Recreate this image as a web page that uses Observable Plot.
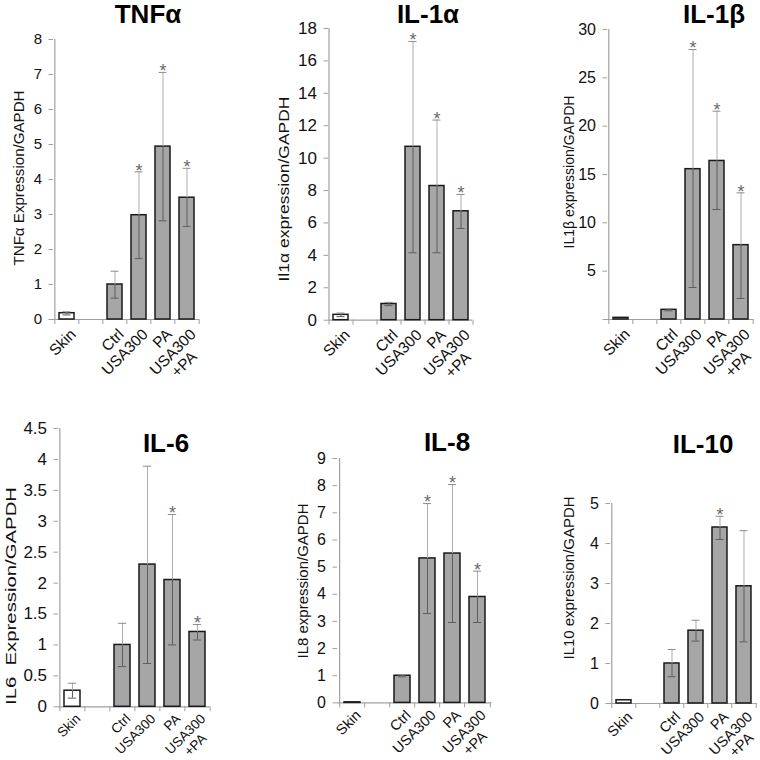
<!DOCTYPE html>
<html><head><meta charset="utf-8">
<script src="https://cdn.jsdelivr.net/npm/d3@7"></script>
<script src="https://cdn.jsdelivr.net/npm/@observablehq/plot@0.6"></script>
<style>
body{margin:0;background:#fff;}
#root{position:relative;width:760px;height:760px;overflow:hidden;background:#fff;}
#root svg{position:absolute;overflow:visible;}
</style></head><body><div id="root"></div>
<script>
// ---- data ----
const categories = ["Skin", " ", "Ctrl", "USA300", "PA", "USA300+PA"];
const tickLine1 = ["Skin", "", "Ctrl", "USA300", "PA", "USA300"];
const tickLine2 = ["", "", "", "", "", "+PA"];
const groups = ["Skin", "Ctrl", "USA300", "PA", "USA300+PA"];
const titles = ["TNFα", "IL-1α", "IL-1β", "IL-6", "IL-8", "IL-10"];
const yLabels = ["TNFα Expression/GAPDH", "Il1α expression/GAPDH", "IL1β expression/GAPDH",
                 "IL6  Expression/GAPDH", "IL8 expression/GAPDH", "IL10 expression/GAPDH"];

const tnfMean = [0.18, 1.00, 2.98, 4.94, 3.48];
const tnfLow  = [0.13, 0.61, 1.74, 2.82, 2.66];
const tnfHigh = [0.22, 1.38, 4.22, 7.06, 4.32];
const tnfStar = [false, false, true, true, true];
const tnfTicks = [0, 1, 2, 3, 4, 5, 6, 7, 8];
const tnfTickLabels = ["0", "1", "2", "3", "4", "5", "6", "7", "8"];

const il1aMean = [0.33, 1.00, 10.7, 8.28, 6.72];
const il1aLow  = [0.22, 0.90, 4.16, 4.16, 5.66];
const il1aHigh = [0.44, 1.10, 17.2, 12.35, 7.76];
const il1aStar = [false, false, true, true, true];
const il1aTicks = [0, 2, 4, 6, 8, 10, 12, 14, 16, 18];
const il1aTickLabels = ["0", "2", "4", "6", "8", "10", "12", "14", "16", "18"];

const il1bMean = [0.17, 1.00, 15.55, 16.4, 7.69];
const il1bLow  = [null, 0.90, 3.31, 11.38, 2.17];
const il1bHigh = [null, 1.10, 27.93, 21.55, 13.1];
const il1bStar = [false, false, true, true, true];
const il1bTicks = [0, 5, 10, 15, 20, 25, 30];
const il1bTickLabels = ["", "5", "10", "15", "20", "25", "30"];

const il6Mean = [0.26, 1.00, 2.30, 2.05, 1.21];
const il6Low  = [0.14, 0.65, 0.70, 1.00, 1.08];
const il6High = [0.38, 1.35, 3.89, 3.11, 1.33];
const il6Star = [false, false, false, true, true];
const il6Ticks = [0, 0.5, 1, 1.5, 2, 2.5, 3, 3.5, 4, 4.5];
const il6TickLabels = ["0", "0.5", "1", "1.5", "2", "2.5", "3", "3.5", "4", "4.5"];

const il8Mean = [0.02, 1.00, 5.32, 5.50, 3.90];
const il8Low  = [null, 0.96, 3.29, 2.96, 2.96];
const il8High = [null, 1.03, 7.34, 8.04, 4.85];
const il8Star = [false, false, true, true, true];
const il8Ticks = [0, 1, 2, 3, 4, 5, 6, 7, 8, 9];
const il8TickLabels = ["0", "1", "2", "3", "4", "5", "6", "7", "8", "9"];

const il10Mean = [0.08, 1.00, 1.82, 4.40, 2.93];
const il10Low  = [null, 0.67, 1.56, 4.10, 1.54];
const il10High = [null, 1.35, 2.08, 4.68, 4.32];
const il10Star = [false, false, false, true, false];
const il10Ticks = [0, 1, 2, 3, 4, 5];
const il10TickLabels = ["0", "1", "2", "3", "4", "5"];

// ---- layout (pixel frame of each panel, font sizes, title and y-label placement) ----
const layout = [
  {x0: 53, x1: 199, yTop: 39.3, yBot: 319.3, tickFont: 15, xFont: 15.5, xdy: 8, title: [148, 23], ylab: [19, 178, 175]},
  {x0: 327.7, x1: 471.7, yTop: 28.3, yBot: 320, tickFont: 17, xFont: 15.5, xdy: 8, title: [428, 23], ylab: [284, 189, 185]},
  {x0: 606.7, x1: 753, yTop: 29.3, yBot: 319.3, tickFont: 16, xFont: 15.5, xdy: 8, title: [714, 23], ylab: [569, 172, 153]},
  {x0: 57.7, x1: 209.3, yTop: 427.7, yBot: 706, tickFont: 17, xFont: 13.5, xdy: 6, title: [166, 452], ylab: [11, 596, 218]},
  {x0: 337.3, x1: 491.7, yTop: 458.3, yBot: 702.7, tickFont: 16, xFont: 14.5, xdy: 6, title: [447, 451], ylab: [303, 581, 155]},
  {x0: 610, x1: 756.7, yTop: 503.3, yBot: 703.3, tickFont: 16, xFont: 14.5, xdy: 7, title: [703, 453], ylab: [569, 578, 163]}
];

const panels = [
  {mean: tnfMean, lo: tnfLow, hi: tnfHigh, star: tnfStar, ticks: tnfTicks, labels: tnfTickLabels},
  {mean: il1aMean, lo: il1aLow, hi: il1aHigh, star: il1aStar, ticks: il1aTicks, labels: il1aTickLabels},
  {mean: il1bMean, lo: il1bLow, hi: il1bHigh, star: il1bStar, ticks: il1bTicks, labels: il1bTickLabels},
  {mean: il6Mean, lo: il6Low, hi: il6High, star: il6Star, ticks: il6Ticks, labels: il6TickLabels},
  {mean: il8Mean, lo: il8Low, hi: il8High, star: il8Star, ticks: il8Ticks, labels: il8TickLabels},
  {mean: il10Mean, lo: il10Low, hi: il10High, star: il10Star, ticks: il10Ticks, labels: il10TickLabels}
];

const FONT = "'Liberation Sans', Arial, sans-serif";
const root = document.getElementById("root");
const axisGray = "#a0a0a0";

panels.forEach((p, k) => {
  const L = layout[k];
  const ml = 50, mr = 14, mt = 24, mb = 70;
  const innerW = L.x1 - L.x0, innerH = L.yBot - L.yTop;
  const step = innerW / categories.length;
  const bw = step * 0.62;
  const capInset = Math.max(0, (bw - 8) / 2);
  const rows = groups.map((g, i) => ({cat: g, mean: p.mean[i], lo: p.lo[i], hi: p.hi[i], star: p.star[i]}));
  const withErr = rows.filter(d => d.lo != null && d.hi != null);
  const ymax = p.ticks[p.ticks.length - 1];
  const line1 = new Map(categories.map((c, i) => [c, tickLine1[i]]));
  const line2 = new Map(categories.map((c, i) => [c, tickLine2[i]]));
  const yLab = new Map(p.ticks.map((t, i) => [t, p.labels[i]]));
  const lineStep = L.xFont * 1.45;

  const svg = Plot.plot({
    width: innerW + ml + mr,
    height: innerH + mt + mb,
    marginLeft: ml, marginRight: mr, marginTop: mt, marginBottom: mb,
    style: {fontFamily: FONT, fontSize: "15px", background: "transparent", overflow: "visible", color: "#111"},
    x: {domain: categories, paddingInner: 0.38, paddingOuter: 0.19, axis: null},
    y: {domain: [0, ymax], axis: null},
    marks: [
      // axis lines
      Plot.ruleY([0], {stroke: axisGray, strokeWidth: 1.2}),
      Plot.ruleX([categories[0]], {y1: 0, y2: ymax, dx: -step / 2, stroke: axisGray, strokeWidth: 1.2}),
      // y axis
      Plot.axisY(p.ticks, {anchor: "left", tickSize: 4.5, tickPadding: 7, stroke: axisGray,
        fill: "#111", fontSize: L.tickFont, tickFormat: t => yLab.get(t), label: null}),
      // x axis ticks at band boundaries
      Plot.axisX(categories, {anchor: "bottom", tickSize: 5, stroke: axisGray, dx: -step / 2,
        tickFormat: () => "", label: null}),
      Plot.axisX([categories[categories.length - 1]], {anchor: "bottom", tickSize: 5, stroke: axisGray,
        dx: step / 2, tickFormat: () => "", label: null}),
      // x tick labels, rotated
      Plot.text(categories.filter(c => line1.get(c)), {x: c => c, text: c => line1.get(c),
        frameAnchor: "bottom", rotate: -45, textAnchor: "end", lineAnchor: "top",
        dx: 2, dy: L.xdy, fontSize: L.xFont, fill: "#111"}),
      Plot.text(categories.filter(c => line2.get(c)), {x: c => c, text: c => line2.get(c),
        frameAnchor: "bottom", rotate: -45, textAnchor: "end", lineAnchor: "top",
        dx: 3, dy: L.xdy + lineStep, fontSize: L.xFont, fill: "#111"}),
      // bars
      Plot.barY(rows, {filter: d => d.cat === "Skin", x: "cat", y: "mean", fill: "#ffffff",
        stroke: "#1a1a1a", strokeWidth: 1.5}),
      Plot.barY(rows, {filter: d => d.cat !== "Skin", x: "cat", y: "mean", fill: "#a6a6a6",
        stroke: "#1a1a1a", strokeWidth: 1.5}),
      // error bars: inside part (over bar) darker, outside part lighter
      Plot.ruleX(withErr, {x: "cat", y1: "lo", y2: "mean", stroke: "#5c5c5c", strokeWidth: 1}),
      Plot.ruleX(withErr, {x: "cat", y1: "mean", y2: "hi", stroke: "#adadad", strokeWidth: 1}),
      Plot.tickY(withErr, {x: "cat", y: "lo", stroke: "#5c5c5c", strokeWidth: 1,
        insetLeft: capInset, insetRight: capInset}),
      Plot.tickY(withErr, {x: "cat", y: "hi", stroke: "#8c8c8c", strokeWidth: 1,
        insetLeft: capInset, insetRight: capInset}),
      // significance stars
      Plot.text(rows.filter(d => d.star), {x: "cat", y: "hi", text: () => "*", fill: "#6a6a6a",
        fontSize: 18, lineAnchor: "middle", dy: -1})
    ]
  });
  svg.style.left = (L.x0 - ml) + "px";
  svg.style.top = (L.yTop - mt) + "px";
  root.appendChild(svg);
});

// overlay for titles and y-axis labels
const ns = "http://www.w3.org/2000/svg";
const ov = document.createElementNS(ns, "svg");
ov.setAttribute("width", 760); ov.setAttribute("height", 760);
ov.style.left = "0px"; ov.style.top = "0px"; ov.style.pointerEvents = "none";
layout.forEach((L, k) => {
  const t = document.createElementNS(ns, "text");
  t.setAttribute("x", L.title[0]); t.setAttribute("y", L.title[1]);
  t.setAttribute("text-anchor", "middle");
  t.setAttribute("font-family", FONT); t.setAttribute("font-weight", "bold");
  t.setAttribute("font-size", 26); t.setAttribute("fill", "#000");
  t.textContent = titles[k];
  ov.appendChild(t);
  const y = document.createElementNS(ns, "text");
  y.setAttribute("transform", `translate(${L.ylab[0]},${L.ylab[1]}) rotate(-90)`);
  y.setAttribute("text-anchor", "middle");
  y.setAttribute("dy", "0.35em");
  y.setAttribute("font-family", FONT);
  y.setAttribute("font-size", 15); y.setAttribute("fill", "#111");
  y.setAttribute("textLength", L.ylab[2]);
  y.setAttribute("lengthAdjust", "spacingAndGlyphs");
  y.style.whiteSpace = "pre";
  y.textContent = yLabels[k];
  ov.appendChild(y);
});
root.appendChild(ov);
</script></body></html>
